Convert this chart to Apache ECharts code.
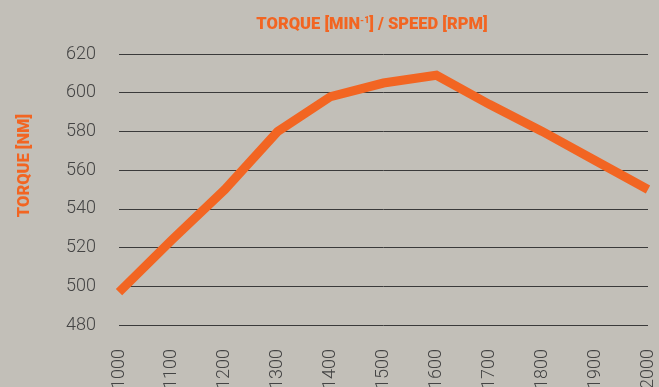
<!DOCTYPE html>
<html>
<head>
<meta charset="utf-8">
<script src="https://cdn.jsdelivr.net/npm/echarts@6/dist/echarts.min.js"></script>
<style>
  html, body { margin: 0; padding: 0; background: #c2bfb8; }
  #chart { width: 659px; height: 387px; }
</style>
</head>
<body>
<div id="chart"></div>
<script>
// Engine speed in rpm
const speeds = ['1000', '1100', '1200', '1300', '1400', '1500', '1600', '1700', '1800', '1900', '2000'];
// Torque in Nm at each speed
const torque = [497, 524, 550, 580, 598, 605, 609, 594, 580, 565, 550];
// Torque axis ticks
const torqueTicks = { min: 480, max: 620, step: 20 };

const orange = '#f26522';

const chart = echarts.init(document.getElementById('chart'));
chart.setOption({
  backgroundColor: '#c2bfb8',
  animation: false,
  title: {
    text: 'TORQUE [MIN{sup|-1}] / SPEED [RPM]',
    left: 367,
    textAlign: 'center',
    top: 11,
    textStyle: {
      fontFamily: 'Roboto',
      fontWeight: 900,
      fontSize: 16.5,
      color: orange,
      rich: {
        sup: { fontFamily: 'Roboto', fontWeight: 900, fontSize: 9, color: orange, verticalAlign: 'top', padding: [0, 0, 7, 0] }
      }
    }
  },
  grid: { left: 119, right: 11, top: 54, bottom: 62, outerBoundsMode: 'none', containLabel: false },
  xAxis: {
    type: 'category',
    data: speeds,
    boundaryGap: false,
    axisLine: { show: false },
    axisTick: { show: false },
    axisLabel: {
      rotate: 90,
      margin: 24,
      fontFamily: 'Roboto',
      fontWeight: 300,
      fontSize: 18,
      color: '#444',
      interval: 0
    },
    splitLine: { show: false }
  },
  yAxis: {
    type: 'value',
    min: torqueTicks.min,
    max: torqueTicks.max,
    interval: torqueTicks.step,
    name: 'TORQUE [NM]',
    nameLocation: 'middle',
    nameGap: 86,
    nameRotate: 90,
    nameTextStyle: {
      fontFamily: 'Roboto',
      fontWeight: 900,
      fontSize: 16.5,
      color: orange,
      padding: [0, 0, 0, 48]
    },
    axisLine: { show: false },
    axisTick: { show: false },
    axisLabel: {
      margin: 23,
      fontFamily: 'Roboto',
      fontWeight: 300,
      fontSize: 18,
      color: '#444',
      padding: [3, 0, 0, 0]
    },
    splitLine: { lineStyle: { color: '#3a3a3a', width: 1 } }
  },
  series: [{
    type: 'line',
    data: torque,
    symbol: 'none',
    clip: true,
    lineStyle: { color: orange, width: 9, cap: 'butt', join: 'miter' }
  }]
});
</script>
</body>
</html>
